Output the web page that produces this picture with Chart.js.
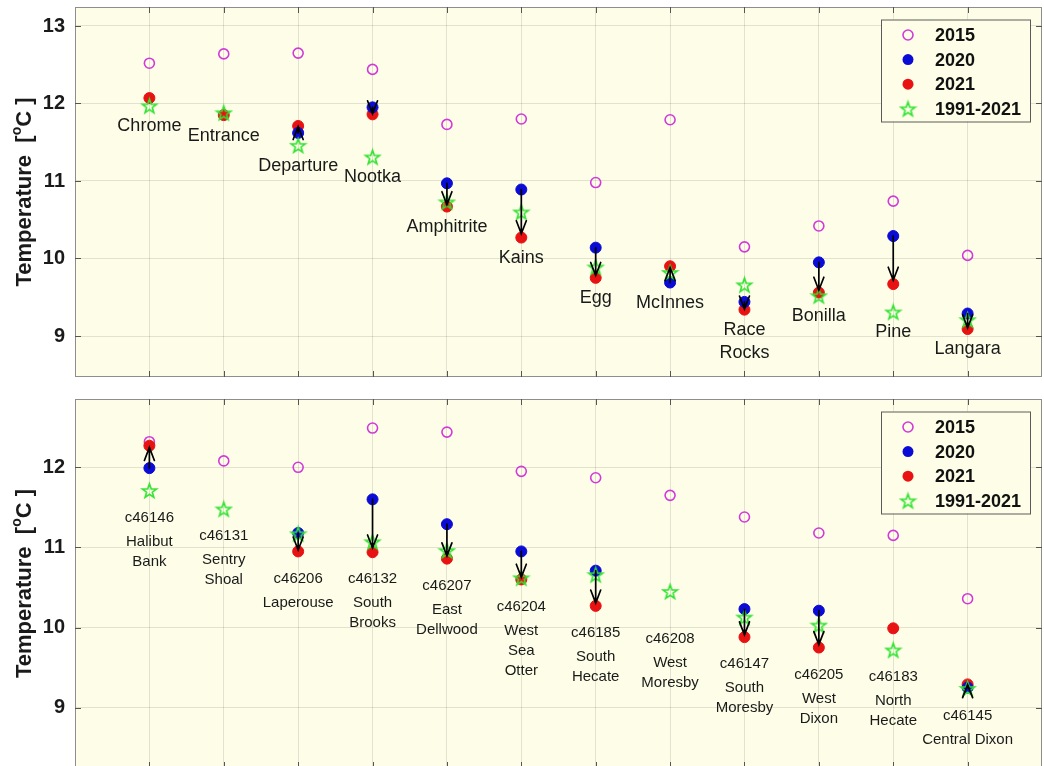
<!DOCTYPE html>
<html>
<head>
<meta charset="utf-8">
<script src="https://cdn.jsdelivr.net/npm/chart.js@4.4.1/dist/chart.umd.min.js"></script>
<style>
  html, body { margin: 0; padding: 0; background: #fff; overflow: hidden; width: 1044px; height: 766px; }
  .panel { position: absolute; left: 0; width: 1044px; height: 390px; }
  #top { top: 0; }
  #bottom { top: 390px; }
</style>
</head>
<body>
<div class="panel" id="top"><canvas id="lighthouseChart"></canvas></div>
<div class="panel" id="bottom"><canvas id="buoyChart"></canvas></div>
<script>
// lighthouse stations (upper panel)
const lighthouses = ["Chrome", "Entrance", "Departure", "Nootka", "Amphitrite", "Kains", "Egg", "McInnes", "Race\nRocks", "Bonilla", "Pine", "Langara"];
const lh2015 = [12.52, 12.64, 12.65, 12.44, 11.73, 11.80, 10.98, 11.79, 10.15, 10.42, 10.74, 10.04];
const lh2020 = [null, null, 11.62, 11.95, 10.97, 10.89, 10.14, 9.69, 9.44, 9.95, 10.29, 9.29];
const lh2021 = [12.07, 11.85, 11.71, 11.86, 10.67, 10.27, 9.75, 9.90, 9.34, 9.56, 9.67, 9.09];
const lhClim = [11.97, 11.88, 11.46, 11.31, 10.73, 10.60, 9.89, 9.82, 9.66, 9.52, 9.31, 9.21];
const lhTicks = [9, 10, 11, 12, 13];

// weather buoys (lower panel)
const buoyIds = ["c46146", "c46131", "c46206", "c46132", "c46207", "c46204", "c46185", "c46208", "c46147", "c46205", "c46183", "c46145"];
const buoyNames = ["Halibut\nBank", "Sentry\nShoal", "Laperouse", "South\nBrooks", "East\nDellwood", "West\nSea\nOtter", "South\nHecate", "West\nMoresby", "South\nMoresby", "West\nDixon", "North\nHecate", "Central Dixon"];
const buoy2015 = [12.32, 12.08, 12.00, 12.49, 12.44, 11.95, 11.87, 11.65, 11.38, 11.18, 11.15, 10.36];
const buoy2020 = [11.99, null, 11.18, 11.60, 11.29, 10.95, 10.71, null, 10.23, 10.21, null, 9.25];
const buoy2021 = [12.27, null, 10.95, 10.94, 10.86, 10.60, 10.27, null, 9.88, 9.75, 9.99, 9.29];
const buoyClim = [11.71, 11.48, 11.17, 11.07, 10.96, 10.62, 10.66, 10.45, 10.13, 10.03, 9.72, 9.24];
const buoyTicks = [9, 10, 11, 12];

const seriesNames = ["2015", "2020", "2021", "1991-2021"];

const FONT = "'Liberation Sans', Arial, Helvetica, sans-serif";
const PLOT_BG = "#fefee8";
const GRID = "rgba(0,0,0,0.11)";
const MAGENTA = "#d23ad8";
const BLUE = "#0b0bd6";
const RED = "#e81212";
const GREEN = "#33e233";

function starPath(g, cx, cy, r) {
  g.beginPath();
  for (let i = 0; i < 10; i++) {
    const rr = i % 2 ? r * 0.4 : r;
    const a = -Math.PI / 2 + i * Math.PI / 5;
    g.lineTo(cx + rr * Math.cos(a), cy + rr * Math.sin(a));
  }
  g.closePath();
}

function starImage(r) {
  const s = Math.ceil(2 * r + 4);
  const c = document.createElement("canvas");
  c.width = c.height = s;
  const g = c.getContext("2d");
  starPath(g, s / 2, s / 2 + 0.8, r);
  g.strokeStyle = GREEN;
  g.lineWidth = 1.6;
  g.stroke();
  return c;
}
const STAR = starImage(7.5);

function toPoints(vals) {
  return vals.map((v, i) => (v == null ? null : { x: i + 1, y: v })).filter(Boolean);
}

// keep the plot box exactly where the layout padding puts it
function noScalePadding(s) {
  s.paddingTop = 0; s.paddingBottom = 0; s.paddingLeft = 0; s.paddingRight = 0;
}

function makePanel(canvasId, p) {
  const datasets = [
    { label: seriesNames[0], data: toPoints(p.s2015), order: 4, pointStyle: "circle", pointRadius: 5,
      borderColor: MAGENTA, backgroundColor: "rgba(0,0,0,0)", pointBorderWidth: 1.6 },
    { label: seriesNames[1], data: toPoints(p.s2020), order: 2, pointStyle: "circle", pointRadius: 5.5,
      borderColor: BLUE, backgroundColor: BLUE, pointBorderWidth: 1 },
    { label: seriesNames[2], data: toPoints(p.s2021), order: 3, pointStyle: "circle", pointRadius: 5.5,
      borderColor: RED, backgroundColor: RED, pointBorderWidth: 1 },
    { label: seriesNames[3], data: toPoints(p.clim), order: 1, pointStyle: STAR, pointRadius: 7.5 }
  ];

  const deco = {
    id: "deco",
    beforeDraw(chart) {
      const { ctx, chartArea: a } = chart;
      ctx.save();
      ctx.fillStyle = PLOT_BG;
      ctx.fillRect(a.left, a.top, a.right - a.left, a.bottom - a.top);
      ctx.restore();
    },
    afterDatasetsDraw(chart) {
      // arrows from the 2020 value toward the 2021 value
      const { ctx } = chart;
      const xs = chart.scales.x, ys = chart.scales.y;
      ctx.save();
      ctx.strokeStyle = "#000";
      ctx.lineWidth = 1.7;
      ctx.lineCap = "round";
      p.s2020.forEach((v0, i) => {
        const v1 = p.s2021[i];
        if (v0 == null || v1 == null) return;
        const x = xs.getPixelForValue(i + 1);
        const y0 = ys.getPixelForValue(v0);
        const y1 = y0 + 0.92 * (ys.getPixelForValue(v1) - y0);
        const dir = Math.sign(y1 - y0) || 1;
        ctx.beginPath();
        ctx.moveTo(x, y0);
        ctx.lineTo(x, y1);
        ctx.moveTo(x - 5, y1 - dir * 13);
        ctx.lineTo(x, y1);
        ctx.lineTo(x + 5, y1 - dir * 13);
        ctx.stroke();
      });
      ctx.restore();
    },
    afterDraw(chart) {
      const { ctx, chartArea: a } = chart;
      const xs = chart.scales.x, ys = chart.scales.y;
      ctx.save();

      // axes box with inward ticks
      ctx.strokeStyle = "#8e8e8e";
      ctx.lineWidth = 1;
      ctx.strokeRect(a.left + 0.5, a.top + 0.5, a.right - a.left - 1, a.bottom - a.top - 1);
      ctx.strokeStyle = "#555";
      ctx.beginPath();
      p.names.forEach((_, i) => {
        const x = Math.round(xs.getPixelForValue(i + 1)) + 0.5;
        ctx.moveTo(x, a.top); ctx.lineTo(x, a.top + 6);
        ctx.moveTo(x, a.bottom); ctx.lineTo(x, a.bottom - 6);
      });
      p.ticks.forEach(v => {
        const y = Math.round(ys.getPixelForValue(v)) + 0.5;
        ctx.moveTo(a.left, y); ctx.lineTo(a.left + 6, y);
        ctx.moveTo(a.right, y); ctx.lineTo(a.right - 6, y);
      });
      ctx.stroke();

      // station labels under the lowest marker
      ctx.fillStyle = "#1a1a1a";
      ctx.textAlign = "center";
      ctx.textBaseline = "middle";
      p.names.forEach((name, i) => {
        const vals = [p.s2015[i], p.s2020[i], p.s2021[i], p.clim[i]].filter(v => v != null);
        const x = xs.getPixelForValue(i + 1);
        let y = ys.getPixelForValue(Math.min(...vals)) + p.labelGap + (p.extraGap[i] || 0);
        if (p.ids) {
          ctx.font = `15px ${FONT}`;
          ctx.fillText(p.ids[i], x, y);
          y += 24;
        }
        ctx.font = `${p.labelSize}px ${FONT}`;
        name.split("\n").forEach((line, k) => {
          ctx.fillText(line, x, y + k * p.lineHeight);
        });
      });

      // legend
      const lw = 149, lh = 102;
      const lx = a.right - 161, ly = a.top + 12.5;
      ctx.fillStyle = PLOT_BG;
      ctx.fillRect(lx, ly, lw, lh);
      ctx.strokeStyle = "#5a5a5a";
      ctx.strokeRect(lx + 0.5, ly + 0.5, lw, lh);
      ctx.font = `bold 18px ${FONT}`;
      ctx.textAlign = "left";
      seriesNames.forEach((name, k) => {
        const ry = ly + 15.5 + k * 24.6;
        const mx = lx + 27;
        const ds = datasets[k];
        if (k === 3) {
          ctx.drawImage(STAR, mx - STAR.width / 2, ry - STAR.height / 2);
        } else {
          ctx.beginPath();
          ctx.arc(mx, ry, k === 0 ? 5 : 5.5, 0, Math.PI * 2);
          if (k === 0) {
            ctx.strokeStyle = ds.borderColor; ctx.lineWidth = 1.6; ctx.stroke();
          } else {
            ctx.fillStyle = ds.backgroundColor; ctx.fill();
          }
        }
        ctx.fillStyle = "#111";
        ctx.fillText(name, lx + 54, ry + 1);
      });

      // y axis title with a raised "o" for degrees
      const cy = (a.top + a.bottom) / 2;
      ctx.translate(25, cy);
      ctx.rotate(-Math.PI / 2);
      ctx.textBaseline = "middle";
      const big = `bold 22px ${FONT}`, small = `bold 14px ${FONT}`;
      const parts = [["Temperature  [", big, 0], ["o", small, -8], ["C ]", big, 0]];
      let total = 0;
      parts.forEach(([t, f]) => { ctx.font = f; total += ctx.measureText(t).width; });
      let tx = -total / 2;
      ctx.fillStyle = "#1a1a1a";
      parts.forEach(([t, f, dy]) => {
        ctx.font = f;
        ctx.fillText(t, tx, dy);
        tx += ctx.measureText(t).width;
      });
      ctx.restore();
    }
  };

  return new Chart(document.getElementById(canvasId), {
    type: "scatter",
    data: { datasets },
    options: {
      responsive: true,
      maintainAspectRatio: false,
      animation: false,
      events: [],
      layout: { padding: p.padding, autoPadding: false },
      plugins: { legend: { display: false }, tooltip: { enabled: false } },
      scales: {
        x: {
          type: "linear", min: 0, max: 13,
          afterBuildTicks: s => { s.ticks = p.names.map((_, i) => ({ value: i + 1 })); },
          afterFit: s => { s.height = 0; noScalePadding(s); },
          ticks: { display: false },
          grid: { color: GRID, drawTicks: false },
          border: { display: false }
        },
        y: {
          min: p.yMin, max: p.yMax,
          afterBuildTicks: s => { s.ticks = p.ticks.map(v => ({ value: v })); },
          afterFit: s => { s.width = 75; noScalePadding(s); },
          ticks: { color: "#1a1a1a", padding: 10, font: { family: FONT, size: 20, weight: "bold" } },
          grid: { color: GRID, drawTicks: false },
          border: { display: false }
        }
      }
    },
    plugins: [deco]
  });
}

makePanel("lighthouseChart", {
  names: lighthouses, ids: null,
  s2015: lh2015, s2020: lh2020, s2021: lh2021, clim: lhClim,
  ticks: lhTicks, yMin: 8.471, yMax: 13.245,
  padding: { top: 7, right: 2, bottom: 13, left: 0 },
  labelGap: 20.5, labelSize: 18, lineHeight: 23, extraGap: {}
});

makePanel("buoyChart", {
  names: buoyNames, ids: buoyIds,
  s2015: buoy2015, s2020: buoy2020, s2021: buoy2021, clim: buoyClim,
  ticks: buoyTicks, yMin: 8.246, yMax: 12.853,
  padding: { top: 9, right: 2, bottom: 12, left: 0 },
  labelGap: 27, labelSize: 15, lineHeight: 20, extraGap: { 7: 20 }
});
</script>
</body>
</html>
